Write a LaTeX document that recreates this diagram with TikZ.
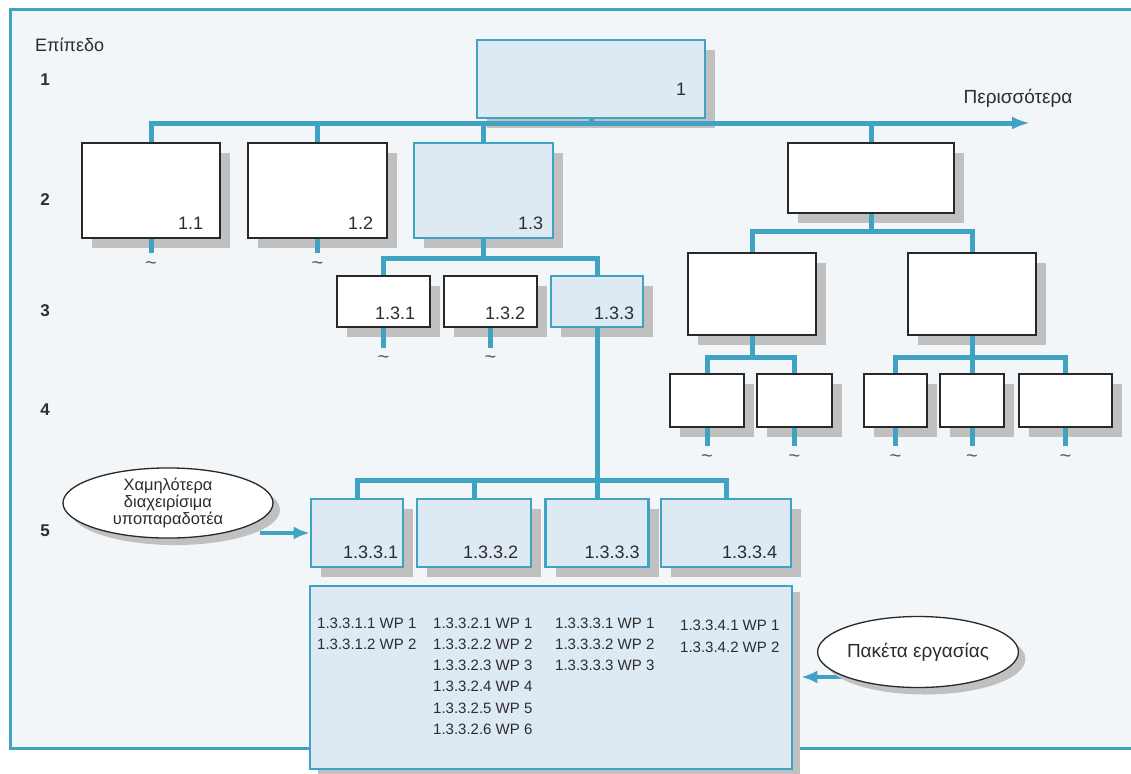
\documentclass[tikz,border=0pt]{standalone}
\usepackage{fontspec}
\setmainfont{Liberation Sans}
\usetikzlibrary{shadows,arrows.meta,calc,shapes.geometric}
\definecolor{tealline}{RGB}{64,163,196}
\definecolor{lightblue}{RGB}{221,233,243}
\definecolor{bgcol}{RGB}{242,246,249}
\definecolor{shadowgray}{RGB}{192,192,192}
\definecolor{boxline}{RGB}{40,40,40}
\definecolor{textdark}{RGB}{45,45,45}
\begin{document}
\begin{tikzpicture}[x=1pt,y=-1pt,
  wbox/.style={draw=boxline, line width=2.6pt, fill=white, inner sep=0pt,
    drop shadow={shadow xshift=10pt, shadow yshift=-10pt, fill=shadowgray, opacity=1}},
  bbox/.style={wbox, draw=tealline, fill=lightblue},
  wpbox/.style={draw=tealline, line width=2.6pt, fill=lightblue, inner sep=0pt,
    drop shadow={shadow xshift=8pt, shadow yshift=-6pt, fill=shadowgray, opacity=1}},
  conn/.style={draw=tealline, line width=5pt},
  arr/.style={draw=tealline, line width=4pt, -{Latex[length=16pt,width=13pt]}},
  lbl/.style={font=\fontsize{18}{20}\selectfont, text=textdark, inner sep=0pt, anchor=base east},
  lev/.style={font=\bfseries\fontsize{17}{19}\selectfont, text=textdark, inner sep=0pt},
  tld/.style={font=\fontsize{20}{20}\selectfont, text=textdark!80, inner sep=0pt},
  wp/.style={font=\fontsize{15}{17}\selectfont, text=textdark, inner sep=0pt, anchor=base west},
  ell/.style={ellipse, draw=boxline, line width=1.3pt, fill=white, inner sep=0pt, text=textdark,
    drop shadow={shadow xshift=7pt, shadow yshift=-7pt, fill=shadowgray, opacity=1}}
]
\useasboundingbox (0,0) rectangle (1131,773);
% frame
\fill[bgcol] (10,10) rectangle (1131,748);
\draw[draw=tealline, line width=3pt] (1131,10) -- (10,10) -- (10,748) -- (1131,748);

% texts left
\node[font=\fontsize{18}{20}\selectfont, text=textdark, inner sep=0pt, anchor=base west] (levtitle) at (35,52) {Επίπεδο};
\node[lev] (lv1) at (45,80) {1};
\node[lev] (lv2) at (45,200) {2};
\node[lev] (lv3) at (45,311) {3};
\node[lev] (lv4) at (45,410) {4};
\node[lev] (lv5) at (45,531) {5};
\node[font=\fontsize{19}{21}\selectfont, text=textdark, inner sep=0pt, anchor=base] (more) at (1018,104) {Περισσότερα};

% level 1
\node[bbox, minimum width=228pt, minimum height=78pt] (b1) at (591,79) {};
% level 2
\node[wbox, minimum width=138pt, minimum height=95pt] (b11) at (151,190.5) {};
\node[wbox, minimum width=139pt, minimum height=95pt] (b12) at (317.5,190.5) {};
\node[bbox, minimum width=139pt, minimum height=95pt] (b13) at (483.5,190.5) {};
\node[wbox, minimum width=166pt, minimum height=70pt] (b14) at (871,178) {};
% level 3
\node[wbox, minimum width=93pt, minimum height=51pt] (b131) at (383.5,301.5) {};
\node[wbox, minimum width=93pt, minimum height=51pt] (b132) at (490.5,301.5) {};
\node[bbox, minimum width=92pt, minimum height=51pt] (b133) at (597,301.5) {};
\node[wbox, minimum width=128pt, minimum height=82pt] (b141) at (752,294) {};
\node[wbox, minimum width=128pt, minimum height=82pt] (b142) at (972,294) {};
% level 4
\node[wbox, minimum width=74pt, minimum height=53pt] (b1411) at (707,400.5) {};
\node[wbox, minimum width=75pt, minimum height=53pt] (b1412) at (794.5,400.5) {};
\node[wbox, minimum width=63pt, minimum height=53pt] (b1421) at (895.5,400.5) {};
\node[wbox, minimum width=64pt, minimum height=53pt] (b1422) at (972,400.5) {};
\node[wbox, minimum width=93pt, minimum height=53pt] (b1423) at (1065.5,400.5) {};
% level 5
\node[bbox, minimum width=92pt, minimum height=68pt] (b1331) at (357,533) {};
\node[bbox, minimum width=114pt, minimum height=68pt] (b1332) at (474,533) {};
\node[bbox, minimum width=103pt, minimum height=68pt] (b1333) at (597,533) {};
\node[bbox, minimum width=130pt, minimum height=68pt] (b1334) at (726,533) {};
% work packages box
\node[wpbox, minimum width=482pt, minimum height=183pt] (wp) at (551,677.5) {};

% labels
\node[lbl] (t1) at ($(b1.south east)+(-20,-24)$) {1};
\node[lbl] (t11) at ($(b11.south east)+(-18,-10)$) {1.1};
\node[lbl] (t12) at ($(b12.south east)+(-15,-10)$) {1.2};
\node[lbl] (t13) at ($(b13.south east)+(-11,-10)$) {1.3};
\node[lbl] (t131) at ($(b131.south east)+(-16,-9)$) {1.3.1};
\node[lbl] (t132) at ($(b132.south east)+(-13,-9)$) {1.3.2};
\node[lbl] (t133) at ($(b133.south east)+(-10,-9)$) {1.3.3};
\node[lbl] (t1331) at ($(b1331.south east)+(-6,-10)$) {1.3.3.1};
\node[lbl] (t1332) at ($(b1332.south east)+(-14,-10)$) {1.3.3.2};
\node[lbl] (t1333) at ($(b1333.south east)+(-10,-10)$) {1.3.3.3};
\node[lbl] (t1334) at ($(b1334.south east)+(-15,-10)$) {1.3.3.4};

% work package texts
\foreach \t [count=\i] in {1.3.3.1.1 WP 1, 1.3.3.1.2 WP 2}
  \node[wp] (wpa\i) at (317,{628+21.3*(\i-1)}) {\t};
\foreach \t [count=\i] in {1.3.3.2.1 WP 1, 1.3.3.2.2 WP 2, 1.3.3.2.3 WP 3, 1.3.3.2.4 WP 4, 1.3.3.2.5 WP 5, 1.3.3.2.6 WP 6}
  \node[wp] (wpb\i) at (433,{628+21.3*(\i-1)}) {\t};
\foreach \t [count=\i] in {1.3.3.3.1 WP 1, 1.3.3.3.2 WP 2, 1.3.3.3.3 WP 3}
  \node[wp] (wpc\i) at (555,{628+21.3*(\i-1)}) {\t};
\foreach \t [count=\i] in {1.3.3.4.1 WP 1, 1.3.3.4.2 WP 2}
  \node[wp] (wpd\i) at (680,{630+22*(\i-1)}) {\t};

% connectors level 1-2
\coordinate (busR) at (1030,123);
\draw[conn] (b1.south) -- (b1.south |- busR);
\draw[conn, -{Latex[length=18pt,width=13pt]}] (b11.north) |- (busR);
\draw[conn] (b12.north) -- (b12.north |- busR);
\draw[conn] (b13.north) -- (b13.north |- busR);
\draw[conn] (b14.north) -- (b14.north |- busR);
% stubs level 2
\draw[conn] (b11.south) -- ++(0,14) coordinate (s11);
\draw[conn] (b12.south) -- ++(0,14) coordinate (s12);
\node[tld] (n11) at ($(s11)+(0,12)$) {\char`\~};
\node[tld] (n12) at ($(s12)+(0,12)$) {\char`\~};
% under 1.3
\draw[conn] (b131.north) -- ++(0,-16) -| (b133.north);
\draw[conn] (b13.south) -- ++(0,22);
\draw[conn] (b131.south) -- ++(0,20) coordinate (s131);
\draw[conn] (b132.south) -- ++(0,20) coordinate (s132);
\node[tld] (n131) at ($(s131)+(0,11)$) {\char`\~};
\node[tld] (n132) at ($(s132)+(0,11)$) {\char`\~};
% right subtree
\draw[conn] (b14.south) -- ++(0,20);
\draw[conn] (b141.north) -- ++(0,-20) -| (b142.north);
\draw[conn] (b141.south) -- ++(0,24);
\draw[conn] (b1411.north) -- ++(0,-15) -| (b1412.north);
\draw[conn] (b1421.north) -- ++(0,-15) -| (b1423.north);
\draw[conn] (b142.south) -- (b1422.north);
\foreach \n in {b1411,b1412,b1421,b1422,b1423}{
  \draw[conn] (\n.south) -- ++(0,18) coordinate (s\n);
  \node[tld] (n\n) at ($(s\n)+(0,12)$) {\char`\~};
}
% level 5
\draw[conn] (b133.south) -- (b1333.north);
\draw[conn] (b1331.north) -- ++(0,-17) -| (b1334.north);
\draw[conn] (b1332.north) -- ++(0,-17);

% callout arrows
\draw[arr] ($(b1331.west)+(-50,0)$) -- (b1331.west);
\draw[arr] (862,677) -- ($(wp.east |- 862,677)+(8,0)$);

% ellipses
\node[ell, minimum width=210pt, minimum height=62pt, align=center,
  font=\fontsize{16.5}{15}\selectfont] (e1) at (168,503)
  {Χαμηλότερα\\διαχειρίσιμα\\υποπαραδοτέα};
\node[ell, minimum width=190pt, minimum height=71pt,
  font=\fontsize{19}{21}\selectfont] (e2) at (918,652) {Πακέτα εργασίας};
\end{tikzpicture}
\end{document}
